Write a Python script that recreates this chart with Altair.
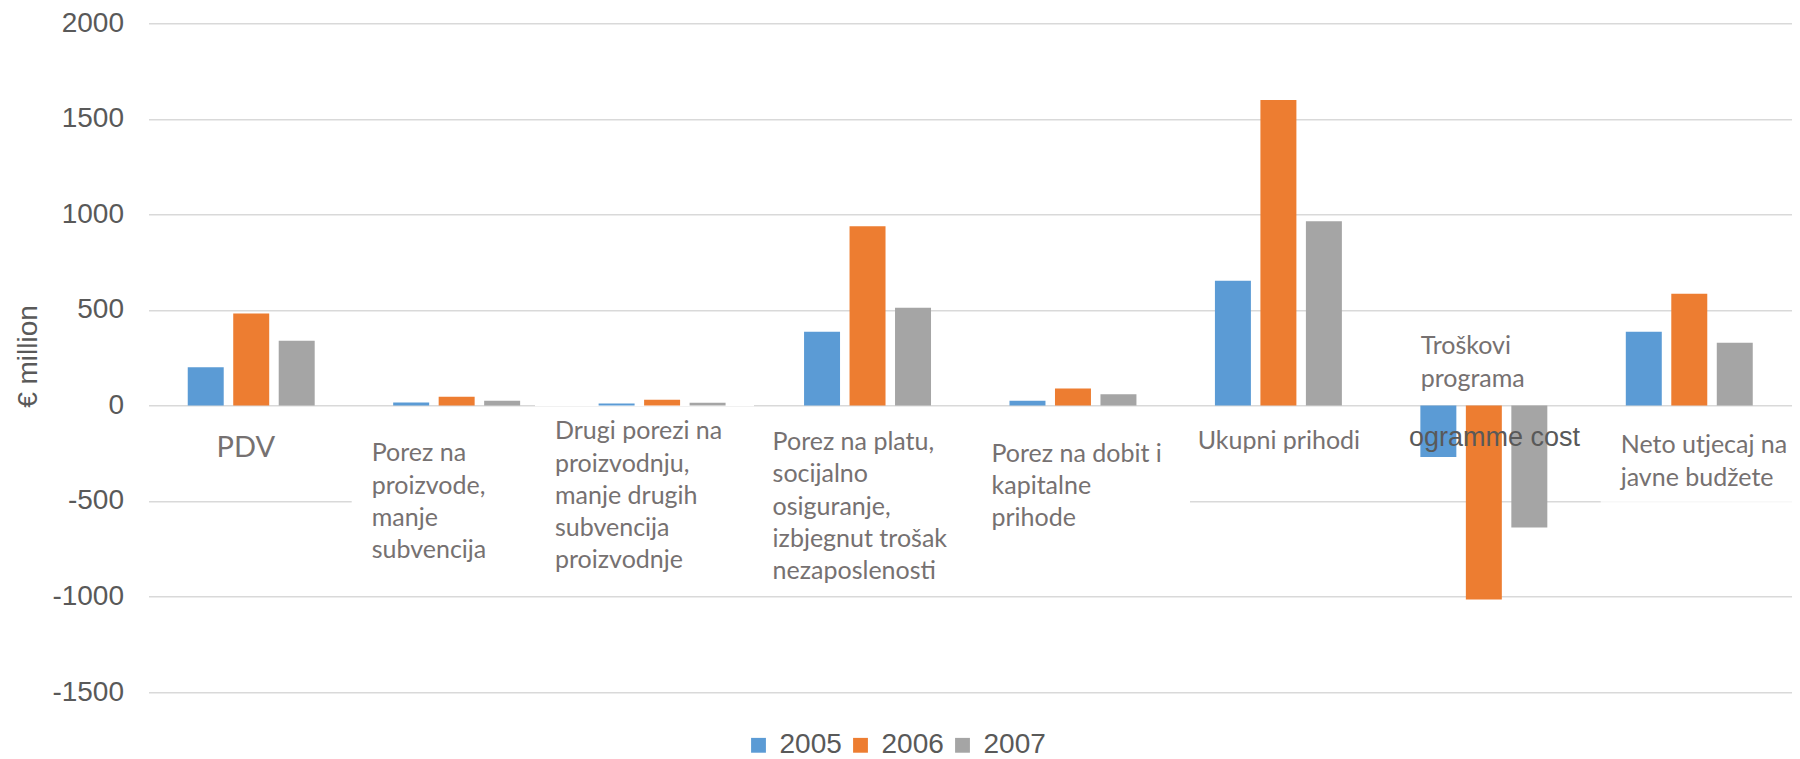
import altair as alt
import pandas as pd

# ---- data ----
cats = [
    "PDV",
    "Porez na proizvode, manje subvencija",
    "Drugi porezi na proizvodnju, manje drugih subvencija proizvodnje",
    "Porez na platu, socijalno osiguranje, izbjegnut trošak nezaposlenosti",
    "Porez na dobit i kapitalne prihode",
    "Ukupni prihodi",
    "Troškovi programa",
    "Neto utjecaj na javne budžete",
]
years = ["2005", "2006", "2007"]
v2005 = [200, 15, 10, 385, 24, 652, -270, 385]
v2006 = [481, 45, 30, 938, 89, 1598, -1016, 584]
v2007 = [338, 24, 14, 511, 59, 964, -639, 328]
colors = ["#5B9BD5", "#ED7D31", "#A5A5A5"]
y_ticks = [-1500, -1000, -500, 0, 500, 1000, 1500, 2000]

rows = []
for i, c in enumerate(cats):
    for yr, vals in zip(years, [v2005, v2006, v2007]):
        rows.append({"cat": c, "year": yr, "value": vals[i]})
df = pd.DataFrame(rows)

# plot origin on the page (used only to place annotation text)
X0, Y0 = 148.5, 23.3
W, H = 1643.5, 668.7
AX = "Liberation Sans"
LAB = "Lato"
LABCOL = "#767171"
AXCOL = "#595959"


def label(lines, x_abs, y_abs, size=25, font=LAB, color=LABCOL, align="left"):
    return alt.Chart(alt.Data(values=[{}])).mark_text(
        text=lines, align=align, baseline="alphabetic", font=font,
        fontSize=size, color=color, lineHeight=32.3
    ).encode(x=alt.value(x_abs - X0), y=alt.value(y_abs - Y0))


def cover(x1, x2, y1, y2, opacity=1.0):
    return alt.Chart(alt.Data(values=[{}])).mark_rect(
        color="white", opacity=opacity
    ).encode(x=alt.value(x1 - X0), x2=alt.value(x2 - X0),
             y=alt.value(y1 - Y0), y2=alt.value(y2 - Y0))


bars = alt.Chart(df).mark_bar().encode(
    x=alt.X("cat:N", sort=cats, axis=None,
            scale=alt.Scale(paddingInner=0.382, paddingOuter=0.191)),
    xOffset=alt.XOffset("year:N", sort=years,
                        scale=alt.Scale(paddingInner=0.209, paddingOuter=0)),
    y=alt.Y("value:Q",
            scale=alt.Scale(domain=[-1500, 2000], nice=False, zero=False),
            axis=alt.Axis(values=y_ticks, labelExpr="'' + datum.value",
                          title="€ million",
                          grid=True, gridColor="#d9d9d9", gridWidth=1.5,
                          domain=False, ticks=False,
                          labelFont=AX, labelFontSize=28, labelColor=AXCOL,
                          labelPadding=25,
                          titleFont=AX, titleFontSize=28, titleFontWeight="normal",
                          titleColor=AXCOL, titleAngle=270, titleAlign="center",
                          titleBaseline="alphabetic", titleX=-112, titleY=332.7)),
    color=alt.Color("year:N", sort=years,
                    scale=alt.Scale(domain=years, range=colors),
                    legend=alt.Legend(title=None, orient="none", legendX=596,
                                      legendY=708, direction="horizontal",
                                      symbolType="square", symbolSize=220,
                                      symbolStrokeWidth=0, labelFont=AX,
                                      labelFontSize=28, labelColor=AXCOL,
                                      labelOffset=7, columnPadding=4)),
)

layers = [
    cover(535, 754, 403.3, 406.3),
    cover(351.7, 1190, 498, 504),
    cover(1600.7, 1792, 498, 504, opacity=0.8),
    bars,
    label(["PDV"], 245.8, 457.3, size=29, align="center"),
    label(["Porez na", "proizvode,", "manje", "subvencija"], 371.7, 461.4),
    label(["Drugi porezi na", "proizvodnju,", "manje drugih", "subvencija", "proizvodnje"], 555, 439.3),
    label(["Porez na platu,", "socijalno", "osiguranje,", "izbjegnut trošak", "nezaposlenosti"], 772.6, 450),
    label(["Porez na dobit i", "kapitalne", "prihode"], 991.5, 461.7),
    label(["Ukupni prihodi"], 1197.7, 449.3),
    label(["Troškovi", "programa"], 1420.7, 354.3),
    label(["ogramme cost"], 1409, 445.7, size=27, font=AX, color=AXCOL),
    label(["Neto utjecaj na", "javne budžete"], 1620.7, 453.3),
]

chart = alt.layer(*layers).properties(
    width=W, height=H,
    autosize=alt.AutoSizeParams(type="none"),
    padding={"left": 140.5, "top": 15.3, "right": 0, "bottom": 66},
).configure_view(stroke=None)

chart.save("out.html", embed_options={"renderer": "svg", "actions": False})
